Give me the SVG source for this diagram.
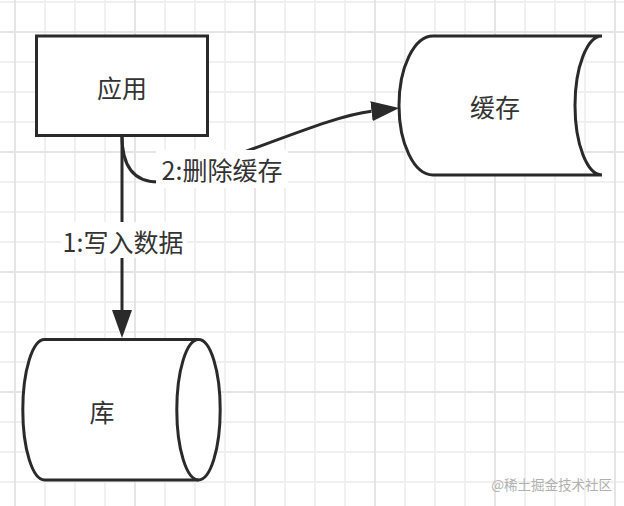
<svg xmlns="http://www.w3.org/2000/svg" width="624" height="506" viewBox="0 0 624 506">
  <style>
    .shape { fill: #ffffff; stroke: #2a2a2a; stroke-width: 3; }
    .edge { fill: none; stroke: #2a2a2a; stroke-width: 3; }
    .lbl { font-family: "Noto Sans CJK SC", "Noto Sans", sans-serif; font-size: 25px; fill: #333333; text-anchor: middle; dominant-baseline: central; }
    .lblbg { fill: #ffffff; }
    .wm { font-family: "Noto Sans CJK SC", "Noto Sans", sans-serif; font-size: 13.5px; fill: #b0b0b0; text-anchor: end; dominant-baseline: central; }
  </style>
  <defs>
    <pattern id="minor" patternUnits="userSpaceOnUse" x="0" y="0" width="30" height="30">
      <rect x="14" y="0" width="2" height="30" fill="#f0f0f0"/>
      <rect x="0" y="1" width="30" height="2" fill="#f0f0f0"/>
    </pattern>
    <pattern id="major" patternUnits="userSpaceOnUse" x="0" y="0" width="120" height="120">
      <rect x="14" y="0" width="2" height="120" fill="#e5e5e5"/>
      <rect x="0" y="31" width="120" height="2" fill="#e5e5e5"/>
    </pattern>
    <marker id="arrow" markerUnits="userSpaceOnUse" markerWidth="28" markerHeight="20" viewBox="0 0 28 20" refX="0" refY="10" orient="auto">
      <path d="M0,0 L28,10 L0,20 Z" fill="#2a2a2a"/>
    </marker>
  </defs>

  <rect x="0" y="0" width="624" height="506" fill="#ffffff"/>
  <rect x="0" y="0" width="624" height="506" fill="url(#minor)"/>
  <rect x="0" y="0" width="624" height="506" fill="url(#major)"/>

  <g id="connectors">
    <g id="edge-write">
      <path class="edge" d="M122,136 L122,310" marker-end="url(#arrow)"/>
      <rect class="lblbg" x="61" y="222" width="126" height="36"/>
      <text class="lbl" x="123" y="241">1:写入数据</text>
    </g>
    <g id="edge-delete">
      <path class="edge" d="M122,136 Q122,182 158,182 C260,149 330,116 371.5,111.2" marker-end="url(#arrow)"/>
      <rect class="lblbg" x="156" y="150" width="132" height="38"/>
      <text class="lbl" x="222" y="169">2:删除缓存</text>
    </g>
  </g>

  <g id="app">
    <rect class="shape" x="36.5" y="36" width="171" height="99.5"/>
    <text class="lbl" x="122" y="87">应用</text>
  </g>

  <g id="cache">
    <path class="shape" d="M602,36 L433,36 A34,69.5 0 0 0 433,175 L602,175 A27,69.5 0 0 1 602,36 Z"/>
    <text class="lbl" x="495" y="106">缓存</text>
  </g>

  <g id="db">
    <path class="shape" d="M44.5,339.5 L198.5,339.5 A21.7,70.25 0 0 1 198.5,480 L44.5,480 A21.7,70.25 0 0 1 44.5,339.5 Z"/>
    <path class="edge" d="M198.5,339.5 A21.7,70.25 0 0 0 198.5,480"/>
    <text class="lbl" x="102" y="411">库</text>
  </g>

  <text class="wm" x="612" y="484">@稀土掘金技术社区</text>
</svg>
